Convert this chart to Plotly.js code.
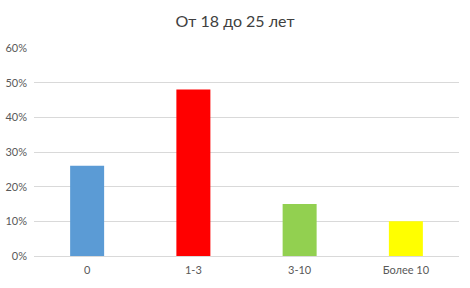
<!DOCTYPE html>
<html><head><meta charset="utf-8">
<script src="https://cdn.plot.ly/plotly-3.0.1.min.js"></script>
<style>html,body{margin:0;padding:0;background:#fff;}#chart{width:470px;height:288px;}</style>
</head><body><div id="chart"></div>
<script>
const categories = ['0', '1-3', '3-10', 'Более 10'];
const values = [0.26, 0.48, 0.15, 0.10];
const colors = ['#5B9BD5', '#FF0000', '#92D050', '#FFFF00'];
const yTicks = [0, 0.1, 0.2, 0.3, 0.4, 0.5, 0.6];
const yTickLabels = ['0%', '10%', '20%', '30%', '40%', '50%', '60%'];

Plotly.newPlot('chart', [{
  type: 'bar', x: categories, y: values,
  marker: {color: colors}, width: 0.32, hoverinfo: 'none'
}], {
  width: 470, height: 288,
  margin: {l: 34, r: 11, t: 48, b: 32},
  paper_bgcolor: '#fff', plot_bgcolor: '#fff',
  title: {text: 'От 18 до 25 лет', x: 0.5, xanchor: 'center', y: 0.925, yanchor: 'middle',
          font: {family: 'Lato, Calibri, sans-serif', size: 16, color: '#404040'}},
  font: {family: 'Lato, Calibri, sans-serif', size: 11, color: '#595959'},
  xaxis: {type: 'category', showgrid: false, zeroline: false, showline: true, linecolor: '#D9D9D9', ticks: '', ticklabelstandoff: 4, tickfont: {size: 11, color: '#595959'}},
  yaxis: {range: [0, 0.6], tickvals: yTicks, ticktext: yTickLabels, gridcolor: '#D9D9D9', zeroline: false, showline: false, ticks: '', ticklabelstandoff: 6, tickfont: {size: 11, color: '#595959'}, automargin: false},
  showlegend: false, bargap: 0.68
}, {displayModeBar: false, staticPlot: true});
</script></body></html>
